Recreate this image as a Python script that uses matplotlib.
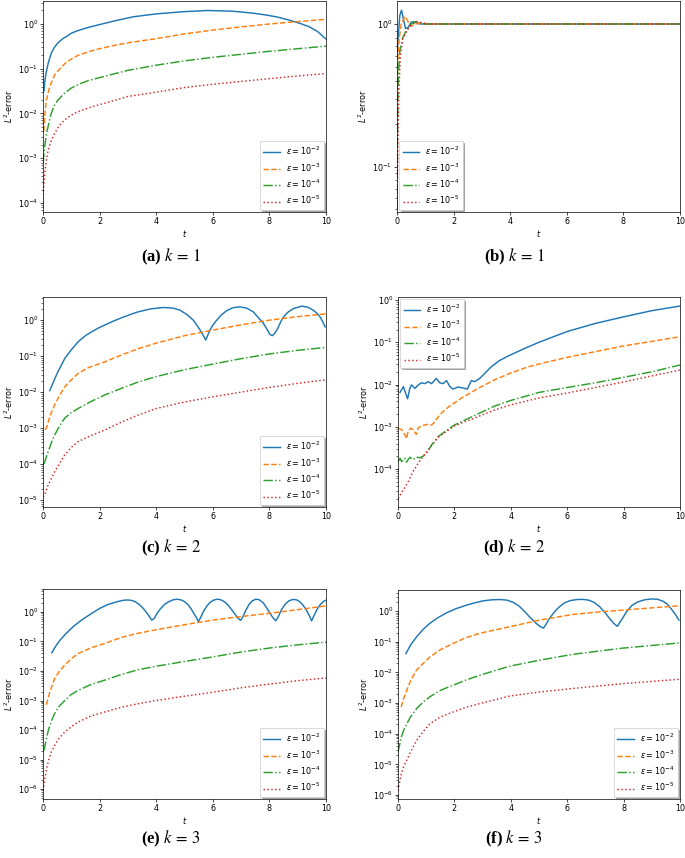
import matplotlib
matplotlib.use("Agg")
import matplotlib.pyplot as plt

# ---------------- data ----------------
LABELS = [r"$\epsilon = 10^{-2}$", r"$\epsilon = 10^{-3}$", r"$\epsilon = 10^{-4}$", r"$\epsilon = 10^{-5}$"]
CAPTIONS = ["(a)", "(b)", "(c)", "(d)", "(e)", "(f)"]
K_VALUES = [1, 1, 2, 2, 3, 3]

# panel (a)
A_T2 = [0.035, 0.06, 0.1, 0.18, 0.29, 0.4, 0.53, 0.7, 0.84, 1.0, 1.2, 1.43, 1.7, 2.0, 2.6, 3.2, 4.0, 4.96, 5.8,
        6.7, 7.4, 7.9, 8.3, 8.7, 9.1, 9.4, 9.7, 10.0]
A_Y2 = [0.032, 0.05, 0.075, 0.13, 0.22, 0.3, 0.38, 0.47, 0.53, 0.62, 0.7, 0.78, 0.87, 0.97, 1.2, 1.45, 1.68, 1.88,
        2.0, 1.93, 1.75, 1.58, 1.42, 1.22, 1.02, 0.87, 0.68, 0.46]
A_T3 = [0.03, 0.06, 0.12, 0.24, 0.41, 0.6, 0.77, 1.0, 1.24, 1.6, 2.0, 2.5, 3.0, 4.0, 5.0, 6.0, 7.0, 8.0, 9.0, 10.0]
A_Y3 = [0.004, 0.009, 0.020, 0.040, 0.073, 0.1, 0.13, 0.165, 0.20, 0.24, 0.28, 0.33, 0.38, 0.47, 0.6, 0.73, 0.86,
        1.0, 1.13, 1.27]
A_T4 = [0.01, 0.03, 0.06, 0.12, 0.18, 0.29, 0.4, 0.53, 0.75, 1.0, 1.3, 1.59, 2.18, 3.0, 4.0, 5.0, 6.0, 7.0, 8.0,
        9.0, 10.0]
A_Y4 = [0.0008, 0.0012, 0.0018, 0.0035, 0.0051, 0.010, 0.015, 0.020, 0.028, 0.037, 0.046, 0.054, 0.068, 0.092,
        0.12, 0.15, 0.18, 0.21, 0.245, 0.28, 0.32]
A_T5 = [0.0, 0.02, 0.06, 0.12, 0.18, 0.28, 0.41, 0.58, 0.77, 1.0, 1.24, 1.7, 2.18, 3.0, 4.0, 5.0, 6.0, 7.0, 8.0,
        9.0, 10.0]
A_Y5 = [1e-4, 2.2e-4, 4.7e-4, 0.0009, 0.0015, 0.0024, 0.0036, 0.0054, 0.0072, 0.0092, 0.011, 0.014, 0.017, 0.024,
        0.030, 0.038, 0.045, 0.052, 0.060, 0.069, 0.078]

# panel (b)
B_T2 = [0.0, 0.05, 0.1, 0.16, 0.22, 0.3, 0.4, 0.5, 0.6, 0.8, 1.0, 10.0]
B_Y2 = [0.6, 0.85, 1.15, 1.25, 1.1, 0.93, 0.95, 1.03, 1.04, 1.0, 1.0, 1.0]
B_T3 = [0.0, 0.03, 0.08, 0.15, 0.28, 0.38, 0.46, 0.6, 0.75, 1.0, 10.0]
B_Y3 = [0.3, 0.55, 0.8, 1.0, 1.13, 1.05, 0.96, 0.99, 1.01, 1.0, 1.0]
B_T4 = [0.0, 0.02, 0.05, 0.1, 0.2, 0.35, 0.5, 0.64, 0.8, 1.0, 10.0]
B_Y4 = [0.05, 0.2, 0.45, 0.65, 0.8, 0.92, 1.0, 1.04, 1.02, 1.0, 1.0]
B_T5 = [0.0, 0.03, 0.07, 0.12, 0.2, 0.35, 0.5, 0.7, 0.9, 1.1, 10.0]
B_Y5 = [0.05, 0.15, 0.35, 0.6, 0.78, 0.9, 0.98, 1.04, 1.02, 1.0, 1.0]

# panel (c)
C_T2 = [0.24, 0.4, 0.53, 0.77, 1.0, 1.24, 1.5, 1.71, 2.0, 2.18, 2.5, 2.77, 3.1, 3.36, 3.8, 4.25, 4.6, 4.84, 5.1,
        5.31, 5.45, 5.55, 5.66, 5.75, 5.82, 5.9, 6.0, 6.14, 6.3, 6.5, 6.7, 6.96, 7.2, 7.43, 7.6, 7.79, 7.92, 8.02,
        8.1, 8.2, 8.3, 8.4, 8.5, 8.65, 8.85, 9.14, 9.35, 9.55, 9.7, 9.8, 9.9, 9.97]
C_Y2 = [0.011, 0.022, 0.037, 0.086, 0.15, 0.25, 0.37, 0.47, 0.63, 0.73, 0.95, 1.16, 1.45, 1.7, 2.05, 2.25, 2.15,
        1.9, 1.4, 1.0, 0.7, 0.53, 0.38, 0.28, 0.38, 0.53, 0.72, 1.0, 1.4, 1.85, 2.2, 2.35, 2.15, 1.7, 1.2, 0.81,
        0.55, 0.40, 0.37, 0.44, 0.6, 0.9, 1.23, 1.65, 2.1, 2.45, 2.3, 1.9, 1.5, 1.2, 0.85, 0.65]
C_T3 = [0.07, 0.12, 0.25, 0.41, 0.6, 0.77, 1.0, 1.24, 1.6, 2.18, 2.8, 3.36, 4.0, 5.0, 6.0, 7.0, 8.0, 9.0, 10.0]
C_Y3 = [0.0009, 0.001, 0.0022, 0.0044, 0.0085, 0.014, 0.022, 0.033, 0.048, 0.069, 0.11, 0.16, 0.23, 0.37, 0.53,
        0.74, 1.0, 1.25, 1.5]
C_T4 = [0.035, 0.18, 0.3, 0.41, 0.6, 0.77, 1.0, 1.24, 1.7, 2.18, 2.8, 3.36, 4.0, 5.0, 6.0, 7.0, 8.0, 9.0, 10.0]
C_Y4 = [1e-4, 2.2e-4, 4e-4, 6.4e-4, 1.2e-3, 0.0019, 0.0027, 0.0035, 0.0055, 0.0083, 0.013, 0.019, 0.027, 0.042,
        0.06, 0.085, 0.115, 0.145, 0.175]
C_T5 = [0.0, 0.1, 0.18, 0.3, 0.41, 0.6, 0.77, 1.0, 1.24, 1.7, 2.18, 2.8, 3.36, 4.0, 5.0, 6.0, 7.0, 8.0, 9.0, 10.0]
C_Y5 = [1.2e-5, 1.7e-5, 2.6e-5, 4e-5, 6.1e-5, 1.1e-4, 1.8e-4, 2.9e-4, 4.2e-4, 6.2e-4, 8.8e-4, 0.0015, 0.0023,
        0.0035, 0.0053, 0.0074, 0.010, 0.0135, 0.0175, 0.022]

# panel (d)
D_T2 = [0.07, 0.19, 0.27, 0.34, 0.42, 0.48, 0.6, 0.72, 0.83, 0.95, 1.07, 1.19, 1.36, 1.48, 1.6, 1.72, 1.84, 1.95,
        2.13, 2.3, 2.46, 2.6, 2.72, 2.9, 3.08, 3.3, 3.6, 3.9, 4.5, 5.0, 6.0, 7.0, 8.0, 9.0, 10.0]
D_Y2 = [0.0065, 0.0089, 0.0062, 0.0046, 0.0081, 0.0098, 0.0081, 0.0098, 0.011, 0.0105, 0.0117, 0.0105, 0.014,
        0.011, 0.0105, 0.0124, 0.0089, 0.0078, 0.0087, 0.0083, 0.0078, 0.0124, 0.0117, 0.014, 0.0185, 0.026, 0.037,
        0.047, 0.072, 0.10, 0.18, 0.28, 0.40, 0.56, 0.72]
D_T3 = [0.01, 0.13, 0.25, 0.3, 0.36, 0.45, 0.53, 0.65, 0.71, 0.83, 0.95, 1.07, 1.19, 1.3, 1.42, 1.54, 1.78, 2.25,
        2.84, 3.43, 4.02, 4.6, 5.2, 6.0, 7.0, 8.0, 9.0, 10.0]
D_Y3 = [9.3e-4, 8.5e-4, 6.4e-4, 5.2e-4, 7.7e-4, 9.3e-4, 8.5e-4, 6.6e-4, 9.3e-4, 1.05e-3, 1.1e-3, 1.15e-3, 1.1e-3,
        1.3e-3, 1.7e-3, 2.1e-3, 2.9e-3, 4.8e-3, 8.1e-3, 0.013, 0.019, 0.026, 0.033, 0.044, 0.06, 0.082, 0.105, 0.135]
D_T4 = [0.01, 0.07, 0.13, 0.24, 0.3, 0.42, 0.53, 0.65, 0.77, 0.89, 1.0, 1.19, 1.42, 1.66, 2.0, 2.6, 3.43, 4.0, 5.0,
        6.0, 7.0, 8.0, 9.0, 10.0]
D_Y4 = [1.5e-4, 1.8e-4, 1.5e-4, 1.8e-4, 1.45e-4, 1.9e-4, 1.65e-4, 1.9e-4, 1.85e-4, 2.0e-4, 2.3e-4, 3.7e-4, 5.8e-4,
        7.7e-4, 1.1e-3, 1.7e-3, 3.1e-3, 4.2e-3, 6.5e-3, 8.5e-3, 0.011, 0.0148, 0.02, 0.029]
D_T5 = [0.0, 0.19, 0.36, 0.53, 0.71, 0.89, 1.07, 1.42, 2.0, 2.6, 3.43, 4.0, 5.0, 6.0, 7.0, 8.0, 9.0, 10.0]
D_Y5 = [2.0e-5, 3.2e-5, 5e-5, 8.6e-5, 1.35e-4, 2.0e-4, 2.8e-4, 5.6e-4, 1.05e-3, 1.5e-3, 2.5e-3, 3.3e-3, 4.8e-3,
        6.3e-3, 8.5e-3, 0.0115, 0.016, 0.022]

# panel (e)
E_T2 = [0.31, 0.45, 0.6, 0.8, 1.07, 1.3, 1.54, 1.8, 2.01, 2.3, 2.6, 2.8, 2.96, 3.1, 3.25, 3.4, 3.55, 3.68, 3.78,
        3.84, 3.93, 4.03, 4.14, 4.28, 4.43, 4.58, 4.72, 4.86, 5.0, 5.13, 5.25, 5.36, 5.44, 5.49, 5.56, 5.66, 5.78,
        5.9, 6.02, 6.15, 6.28, 6.42, 6.55, 6.68, 6.8, 6.9, 6.98, 7.05, 7.16, 7.28, 7.4, 7.52, 7.64, 7.78, 7.9, 8.02,
        8.12, 8.22, 8.3, 8.42, 8.55, 8.68, 8.82, 8.95, 9.08, 9.2, 9.32, 9.42, 9.49, 9.56, 9.68, 9.8, 9.92, 10.0]
E_Y2 = [0.041, 0.07, 0.11, 0.18, 0.32, 0.48, 0.69, 1.0, 1.33, 1.8, 2.2, 2.45, 2.55, 2.5, 2.25, 1.8, 1.3, 0.9, 0.65,
        0.53, 0.6, 0.9, 1.25, 1.75, 2.2, 2.55, 2.7, 2.6, 2.25, 1.75, 1.2, 0.8, 0.6, 0.47, 0.62, 1.0, 1.55,
        2.1, 2.5, 2.7, 2.6, 2.2, 1.65, 1.15, 0.8, 0.6, 0.52, 0.65, 1.1, 1.8, 2.4, 2.7, 2.6, 2.05, 1.4, 0.9,
        0.65, 0.5, 0.65, 1.15, 1.8, 2.35, 2.65, 2.6, 2.2, 1.65, 1.1, 0.72, 0.5, 0.7, 1.2, 1.8, 2.3, 2.5]
E_T3 = [0.12, 0.18, 0.24, 0.32, 0.41, 0.58, 0.77, 1.0, 1.24, 1.7, 2.18, 2.8, 3.36, 4.0, 5.0, 6.0, 7.0, 8.0, 9.0, 10.0]
E_Y3 = [7.2e-4, 0.0012, 0.0019, 0.0032, 0.0055, 0.0098, 0.016, 0.026, 0.039, 0.061, 0.086, 0.14, 0.19, 0.25, 0.37,
        0.53, 0.7, 0.9, 1.2, 1.6]
E_T4 = [0.035, 0.08, 0.12, 0.18, 0.24, 0.32, 0.41, 0.58, 0.77, 1.0, 1.24, 1.7, 2.18, 2.8, 3.36, 4.0, 5.0, 6.0, 7.0,
        8.0, 9.0, 10.0]
E_Y4 = [2e-5, 3.3e-5, 5e-5, 9e-5, 1.4e-4, 2.3e-4, 3.6e-4, 6.5e-4, 1.0e-3, 1.6e-3, 2.2e-3, 3.5e-3, 4.9e-3, 7.8e-3,
        0.011, 0.0145, 0.021, 0.030, 0.044, 0.060, 0.077, 0.095]
E_T5 = [0.0, 0.03, 0.06, 0.12, 0.18, 0.28, 0.41, 0.58, 0.77, 1.0, 1.24, 1.7, 2.18, 2.8, 3.36, 4.0, 5.0, 6.0, 7.0,
        8.0, 9.0, 10.0]
E_Y5 = [8.9e-7, 1.4e-6, 2.2e-6, 4.5e-6, 8.1e-6, 1.7e-5, 3e-5, 5.5e-5, 8.5e-5, 1.3e-4, 1.86e-4, 3e-4, 4.1e-4, 6e-4,
        7.8e-4, 1.0e-3, 1.4e-3, 1.9e-3, 2.7e-3, 3.6e-3, 4.7e-3, 5.8e-3]

# panel (f)
F_T2 = [0.28, 0.45, 0.66, 0.9, 1.13, 1.4, 1.72, 2.05, 2.43, 2.75, 3.02, 3.3, 3.6, 3.85, 4.08, 4.3, 4.5, 4.7, 4.9,
        5.05, 5.16, 5.27, 5.37, 5.55, 5.72, 5.9, 6.1, 6.35, 6.55, 6.75, 6.95, 7.15, 7.35, 7.5, 7.65, 7.78, 7.88,
        7.96, 8.1, 8.3, 8.5, 8.75, 9.0, 9.2, 9.4, 9.55, 9.7, 9.85, 9.96]
F_Y2 = [0.041, 0.08, 0.145, 0.26, 0.4, 0.6, 0.88, 1.2, 1.57, 1.9, 2.17, 2.33, 2.4, 2.3, 1.95, 1.45, 0.95, 0.6, 0.4,
        0.31, 0.28, 0.4, 0.58, 0.95, 1.38, 1.85, 2.2, 2.4, 2.42, 2.3, 1.95, 1.4, 0.88, 0.58, 0.4, 0.32, 0.45,
        0.58, 0.95, 1.55, 2.0, 2.35, 2.5, 2.45, 2.1, 1.7, 1.15, 0.75, 0.51]
F_T3 = [0.11, 0.2, 0.31, 0.45, 0.66, 0.9, 1.13, 1.5, 1.95, 2.4, 2.9, 3.96, 5.02, 6.2, 7.0, 7.96, 9.0, 10.0]
F_Y3 = [7.4e-4, 1.4e-3, 0.0026, 0.0055, 0.012, 0.02, 0.032, 0.055, 0.088, 0.135, 0.19, 0.31, 0.51, 0.78, 0.92,
        1.08, 1.28, 1.5]
F_T4 = [0.0, 0.06, 0.12, 0.2, 0.31, 0.45, 0.66, 0.9, 1.13, 1.5, 1.95, 2.4, 2.9, 3.96, 5.02, 6.2, 7.96, 10.0]
F_Y4 = [2.5e-5, 4.5e-5, 7.8e-5, 1.3e-4, 2.1e-4, 3.6e-4, 6.6e-4, 1.1e-3, 1.6e-3, 2.6e-3, 3.8e-3, 5.6e-3, 8.1e-3,
        0.016, 0.025, 0.039, 0.062, 0.092]
F_T5 = [0.0, 0.06, 0.12, 0.2, 0.31, 0.45, 0.66, 0.9, 1.13, 1.5, 1.95, 2.4, 2.9, 3.96, 5.02, 6.2, 7.96, 10.0]
F_Y5 = [1.4e-6, 2.7e-6, 5e-6, 8.5e-6, 1.35e-5, 2.6e-5, 6e-5, 1.2e-4, 2.1e-4, 3.5e-4, 5.1e-4, 7.2e-4, 9.6e-4,
        1.7e-3, 2.3e-3, 3.0e-3, 4.3e-3, 6.0e-3]

X_TICKS = [0, 2, 4, 6, 8, 10]

PANELS = [
    [(A_T2, A_Y2), (A_T3, A_Y3), (A_T4, A_Y4), (A_T5, A_Y5)],
    [(B_T2, B_Y2), (B_T3, B_Y3), (B_T4, B_Y4), (B_T5, B_Y5)],
    [(C_T2, C_Y2), (C_T3, C_Y3), (C_T4, C_Y4), (C_T5, C_Y5)],
    [(D_T2, D_Y2), (D_T3, D_Y3), (D_T4, D_Y4), (D_T5, D_Y5)],
    [(E_T2, E_Y2), (E_T3, E_Y3), (E_T4, E_Y4), (E_T5, E_Y5)],
    [(F_T2, F_Y2), (F_T3, F_Y3), (F_T4, F_Y4), (F_T5, F_Y5)],
]

# ---------------- style / layout ----------------
W, H = 685, 858
COLORS = ["#1f77b4", "#ff7f0e", "#2ca02c", "#d62728"]
STYLES = ["-", "--", "-.", ":"]
# axes boxes in pixels: left, top, right, bottom
BOXES = [(43, 1, 326, 212), (397, 1, 680, 212),
         (43, 297, 326, 507), (398, 297, 680, 507),
         (43, 589, 326, 799), (398, 590, 680, 799)]
YLIMS = [(6.3e-5, 3.26), (0.048, 1.45), (6.4e-6, 4.4), (1.26e-5, 1.18), (4.6e-7, 6.0), (7.4e-7, 4.9)]
LEG_LOC = ["lower right", "lower left", "lower right", "upper left", "lower right", "lower right"]
CAP_POS = [(171, 257), (514, 257), (171, 548), (514, 548), (171, 839), (514, 839)]

FS = 5.8
fig = plt.figure(figsize=(W / 100, H / 100), dpi=100)

for i, series in enumerate(PANELS):
    l, t, r, b = BOXES[i]
    ax = fig.add_axes([l / W, 1 - b / H, (r - l) / W, (b - t) / H])
    for j, (tt, yy) in enumerate(series):
        ax.plot(tt, yy, color=COLORS[j], linestyle=STYLES[j], linewidth=1.05, label=LABELS[j])
    ax.set_yscale("log")
    ax.set_xlim(0, 10)
    ax.set_ylim(*YLIMS[i])
    ax.set_xticks(X_TICKS)
    ax.tick_params(which="major", labelsize=FS, length=2.0, width=0.5, pad=1.5)
    ax.tick_params(which="minor", length=1.2, width=0.4)
    for sp in ax.spines.values():
        sp.set_linewidth(0.5)
    ax.set_xlabel(r"$t$", fontsize=FS, labelpad=1.5)
    ax.set_ylabel(r"$L^2$-error", fontsize=FS, labelpad=2)
    leg = ax.legend(loc=LEG_LOC[i], fontsize=FS, shadow={"ox": 1.0, "oy": -1.0}, handlelength=2.0,
                    borderpad=0.4, labelspacing=0.5, framealpha=1.0, fancybox=False,
                    borderaxespad=0.3)
    leg.get_frame().set_linewidth(0.5)
    cx, cy = CAP_POS[i]
    fig.text(cx / W, 1 - cy / H, CAPTIONS[i] + r" $k\,=\,%d$" % K_VALUES[i], ha="center", va="center",
             fontsize=12, fontweight="bold", family="Liberation Serif", math_fontfamily="stix")

fig.savefig("out.png", dpi=100)
